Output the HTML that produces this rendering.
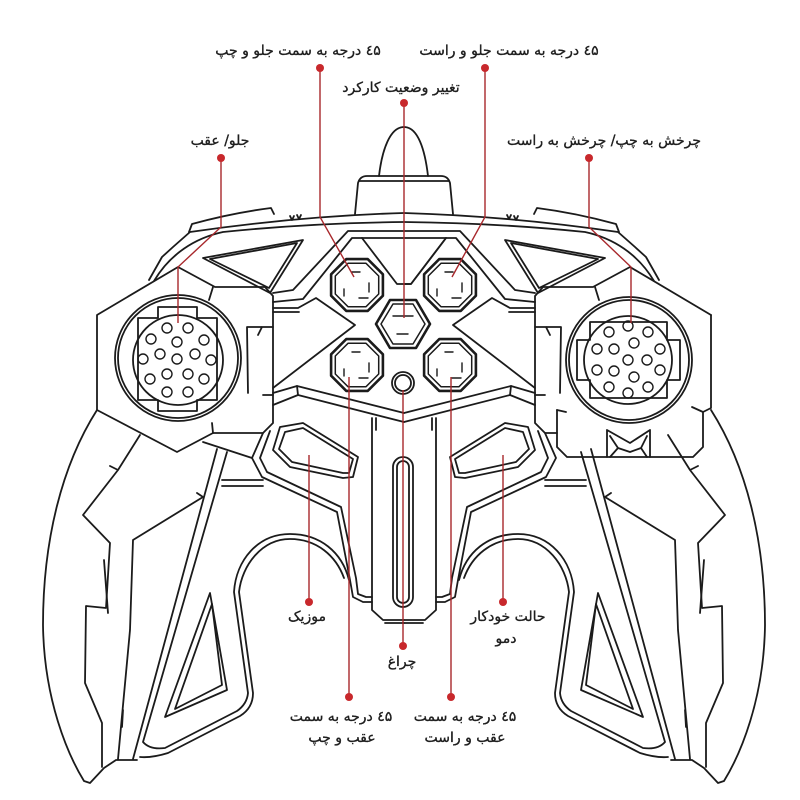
<!DOCTYPE html>
<html><head><meta charset="utf-8">
<style>
html,body{margin:0;padding:0;background:#fff;}
svg{display:block;}
.k{fill:none;stroke:#1b1b1b;stroke-width:1.8;stroke-linejoin:round;stroke-linecap:round;}
.r{fill:none;stroke:#a8282c;stroke-width:1.4;}
.d{fill:#c8282c;}
text{font-family:"DejaVu Sans","Liberation Sans",sans-serif;font-size:14px;fill:#1e1e1e;stroke:#1e1e1e;stroke-width:0.35;direction:rtl;unicode-bidi:embed;}
</style></head>
<body>
<svg width="800" height="800" viewBox="0 0 800 800" xmlns="http://www.w3.org/2000/svg">
<defs>
<g id="L" class="k">
  <!-- top edges -->
  <path d="M149,280 L162,257 L173,247 L190,232 Q300,216 404,213"/>
  <path d="M189,232 L192,224 Q232,213 271,208 L274,214"/>
  <path d="M154,281 C170,254 195,238 223,232 Q310,223 404,222"/>
  <path d="M290,216 l2,4 l2,-4 M297,215 l2,4 l2,-4"/>
  <path d="M273,327 L247,327 L248,393 M262,327 L258,335"/>
  <!-- upper triangle hole -->
  <path d="M203,258 L303,240 L270,293 Z"/>
  <path d="M210,259 L297,243 L269,288 Z"/>
  <!-- inner frame -->
  <path d="M273,293 L293,290 L348,231 L404,231"/>
  <path d="M273,302 L303,299 L352,238 L404,238"/>
  <path d="M362,238 L397,284 L404,284"/>
  <!-- arrow arm -->
  <path d="M273,308 L298,308 L316,298 L355,325 L273,388"/>
  <path d="M273,312 L299,312"/>
  <!-- lower frame -->
  <path d="M273,393 L297,386 L404,413"/>
  <path d="M273,405 L298,395 L404,422"/>
  <path d="M297,386 L298,395"/>
  <!-- wall -->
  <path d="M263,433 L252,458 L262,477 L337,512 L350,580 L353,597 L363,602 L372,602"/>
  <path d="M270,431 L260,458 L267,472 L341,507 L356,578 L358,594 L366,597 L372,597"/>
  <path d="M222,480 L263,480 M222,486 L263,486"/>
  <!-- stem -->
  <path d="M372,418 L372,610 L383,620 L404,620"/>
  <path d="M376,418 L376,430"/>
  <path d="M385,623 L404,623"/>
  <!-- oval button -->
  <path d="M273,450 L280,427 L303,423 L358,457 L353,477 L343,478 L290,467 Z"/>
  <path d="M279,449 L285,432 L303,428 L353,459 L349,473 L343,473 L292,462 Z"/>
  <!-- arch + grip inner contour -->
  <path d="M227,452 L143,742 Q150,750 165,748 L237,711 Q247,704 248,693 L234,592 C236,560 258,534 290,534 C320,534 342,552 349,580"/>
  <path d="M217,449 L133,759 M140,757 Q152,758 168,753 L240,716 Q253,708 253,693 L239,592 C242,565 262,539 290,539 C317,539 336,556 344,578"/>
  <!-- grip triangle hole -->
  <path d="M210,593 L227,690 L165,717 Z"/>
  <path d="M212,604 L222,685 L175,709 Z"/>
  <!-- outer grip edge -->
  <path d="M97,410 C62,465 43,540 43,625 C44,700 68,755 84,781 L90,783 L104,768 L116,760 L137,760"/>
  <!-- grip detail lines -->
  <path d="M140,435 L118,470 L110,466 M118,470 L83,515 L110,543 L106,608 L86,606 L85,683 L102,723 L102,767"/>
  <path d="M104,560 L108,613"/>
  <path d="M203,497 L197,493 M203,497 L133,540 L130,630 L118,759"/>
  <path d="M123,710 L122,727"/>
</g>
<g id="oct">
  <polygon class="k" style="stroke-width:2.6" points="25.9,10.7 10.7,25.9 -10.7,25.9 -25.9,10.7 -25.9,-10.7 -10.7,-25.9 10.7,-25.9 25.9,-10.7"/>
  <polygon class="k" style="stroke-width:1.5" points="21.7,9 9,21.7 -9,21.7 -21.7,9 -21.7,-9 -9,-21.7 9,-21.7 21.7,-9"/>
  <path class="k" d="M-5,-13 h8 M12,-2 v9 M2,13 h9 M-13,4 v7" style="stroke-width:1.4"/>
</g>
</defs>

<!-- body halves -->
<use href="#L"/>
<use href="#L" transform="translate(808,0) scale(-1,1)"/>

<!-- left housing -->
<g class="k">
  <path d="M97,315 L178,267 L215,287 L265,287 L273,296 L273,423 L263,433 L213,433 L177,452 L97,410 Z"/>
  <path d="M213,287 L209,300 M213,433 L212,423 M263,395 L273,395"/>
  <path d="M203,442 L252,458"/>
</g>
<!-- right housing -->
<g class="k">
  <path d="M711,315 L630,267 L593,287 L543,287 L535,296 L535,423 L545,433 L557,433"/>
  <path d="M595,287 L599,300 M535,395 L545,395"/>
  <path d="M557,410 L557,447 L567,457 L693,457 L703,447 L703,412 L711,408 L711,315"/>
  <path d="M557,410 L566,412 M703,412 L692,407"/>
  <path d="M607,430 L630,443 L650,430 M607,430 L607,457 M650,430 L650,457"/>
  <path d="M610,436 L618,448 L610,457 M647,436 L641,448 L647,457 M618,448 L630,452 L641,448"/>
</g>

<!-- antenna etc -->
<g class="k">
  <path d="M379,176 C382,150 390,127 404,127 C418,127 425,150 428,176"/>
  <path d="M355,214 L358,183 Q360,176 367,176 L441,176 Q448,176 450,183 L453,214"/>
  <path d="M359,181 L449,181"/>
  <path d="M404,284 L411,284 L446,238"/>
  <rect x="393" y="457" width="20" height="150" rx="10"/>
  <rect x="397" y="461" width="12" height="142" rx="6"/>
</g>

<!-- joysticks -->
<g class="k">
  <circle cx="178" cy="358" r="63"/>
  <circle cx="178" cy="358" r="60"/>
  <path d="M138,318 L158,318 L158,307 L197,307 L197,318 L217,318 L217,400 L197,400 L197,411 L158,411 L158,400 L138,400 Z"/>
  <circle cx="178" cy="360" r="45"/>
  <g style="stroke-width:1.4">
  <circle cx="167" cy="328" r="5"/><circle cx="188" cy="328" r="5"/><circle cx="151" cy="339" r="5"/><circle cx="177" cy="342" r="5"/><circle cx="204" cy="340" r="5"/><circle cx="160" cy="354" r="5"/><circle cx="195" cy="354" r="5"/><circle cx="143" cy="359" r="5"/><circle cx="177" cy="359" r="5"/><circle cx="211" cy="360" r="5"/><circle cx="167" cy="374" r="5"/><circle cx="188" cy="374" r="5"/><circle cx="150" cy="379" r="5"/><circle cx="204" cy="379" r="5"/><circle cx="167" cy="392" r="5"/><circle cx="188" cy="392" r="5"/>
  </g>

  <circle cx="629" cy="360" r="63"/>
  <circle cx="629" cy="360" r="60"/>
  <path d="M590,322 L667,322 L667,340 L680,340 L680,380 L667,380 L667,398 L590,398 L590,380 L577,380 L577,340 L590,340 Z"/>
  <circle cx="628" cy="360" r="44"/>
  <g style="stroke-width:1.4">
  <circle cx="628" cy="326" r="5"/><circle cx="609" cy="332" r="5"/><circle cx="648" cy="332" r="5"/><circle cx="634" cy="343" r="5"/><circle cx="597" cy="349" r="5"/><circle cx="614" cy="349" r="5"/><circle cx="660" cy="349" r="5"/><circle cx="628" cy="360" r="5"/><circle cx="647" cy="360" r="5"/><circle cx="597" cy="370" r="5"/><circle cx="614" cy="371" r="5"/><circle cx="660" cy="370" r="5"/><circle cx="634" cy="377" r="5"/><circle cx="609" cy="387" r="5"/><circle cx="648" cy="387" r="5"/><circle cx="628" cy="393" r="5"/>
  </g>
</g>

<!-- buttons -->
<use href="#oct" transform="translate(357,285)"/>
<use href="#oct" transform="translate(450,285)"/>
<use href="#oct" transform="translate(357,365)"/>
<use href="#oct" transform="translate(450,365)"/>
<g class="k">
  <polygon style="stroke-width:2.6" points="376,324 390,300 416,300 430,324 416,348 390,348"/>
  <polygon style="stroke-width:1.5" points="381,324 393,304 413,304 425,324 413,344 393,344"/>
  <path d="M393,316 h20 M397,334 h11" style="stroke-width:1.4"/>
  <circle cx="403" cy="383" r="11"/>
  <circle cx="403" cy="383" r="8"/>
</g>

<!-- red leader lines -->
<g class="r">
  <path d="M320,68 L320,217 L354,277"/>
  <path d="M485,68 L485,217 L452,277"/>
  <path d="M404,103 L404,318"/>
  <path d="M221,158 L221,227 L178,267 L178,323"/>
  <path d="M589,158 L589,227 L631,267 L631,323"/>
  <path d="M309,455 L309,602"/>
  <path d="M349,377 L349,697"/>
  <path d="M403,390 L403,646"/>
  <path d="M451,377 L451,697"/>
  <path d="M503,455 L503,602"/>
</g>
<g class="d">
  <circle cx="320" cy="68" r="4"/>
  <circle cx="485" cy="68" r="4"/>
  <circle cx="404" cy="103" r="4"/>
  <circle cx="221" cy="158" r="4"/>
  <circle cx="589" cy="158" r="4"/>
  <circle cx="309" cy="602" r="4"/>
  <circle cx="503" cy="602" r="4"/>
  <circle cx="403" cy="646" r="4"/>
  <circle cx="349" cy="697" r="4"/>
  <circle cx="451" cy="697" r="4"/>
</g>

<!-- labels -->
<g text-anchor="middle">
  <text x="298" y="55" direction="rtl">٤۵ درجه به سمت جلو و چپ</text>
  <text x="509" y="55" direction="rtl">٤۵ درجه به سمت جلو و راست</text>
  <text x="401" y="92" direction="rtl">تغییر وضعیت کارکرد</text>
  <text x="220" y="145" direction="rtl">جلو/ عقب</text>
  <text x="604" y="145" direction="rtl">چرخش به چپ/ چرخش به راست</text>
  <text x="307" y="621" direction="rtl">موزیک</text>
  <text x="508" y="621" direction="rtl">حالت خودکار</text>
  <text x="506" y="643" direction="rtl">دمو</text>
  <text x="402" y="666" direction="rtl">چراغ</text>
  <text x="341" y="721" direction="rtl">٤۵ درجه به سمت</text>
  <text x="342" y="742" direction="rtl">عقب و چپ</text>
  <text x="465" y="721" direction="rtl">٤۵ درجه به سمت</text>
  <text x="465" y="742" direction="rtl">عقب و راست</text>
</g>
</svg>
</body></html>
